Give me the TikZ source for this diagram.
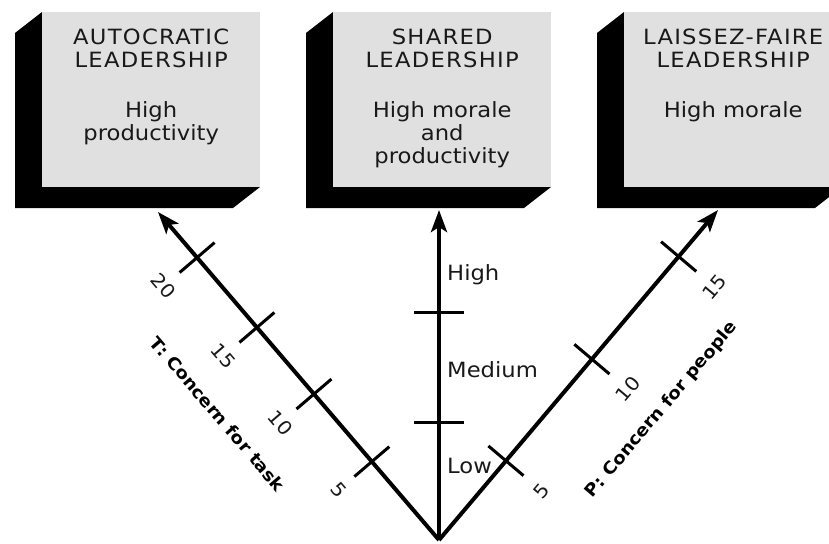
\documentclass[tikz,border=0pt]{standalone}
\usepackage{fontspec}
\setmainfont{DejaVu Sans}[FakeStretch=1.08]
\usetikzlibrary{positioning,calc,arrows.meta}
\definecolor{boxgray}{RGB}{224,224,224}
\newcommand{\spacedcaps}[1]{{\addfontfeature{LetterSpace=6}#1}}

\begin{document}
\begin{tikzpicture}[x=1pt,y=-1pt,
  face/.style={fill=boxgray,anchor=north west,minimum width=218pt,minimum height=175pt,inner sep=0pt},
  box text/.style={align=center,inner sep=0pt,text=black!90,font=\fontsize{21}{23}\selectfont},
  axis/.style={line width=4pt,-{Stealth[length=22pt,width=16pt,inset=5pt]}},
  scale tick/.style={line width=3pt},
  num/.style={inner sep=0pt,text=black!90,font=\fontsize{19}{19}\selectfont},
  axis title/.style={inner sep=0pt,font=\fontsize{17}{17}\selectfont\bfseries},
  level/.style={anchor=west,inner sep=0pt,text=black!90,font=\fontsize{21}{22}\selectfont}]
\useasboundingbox (0,0) rectangle (829,543);

% boxes with their dark sides
\foreach \x/\boxname in {42/autoBox,333/sharedBox,624/laissezBox} {
  \fill (\x,12) -- ++(-27,21) -- ++(0,175) -- ++(218,0) -- ++(27,-21) -- cycle;
  \node[face] (\boxname) at (\x,12) {};
}
\node[box text, below=17pt of autoBox.north] (autoText) {\spacedcaps{AUTOCRATIC}\\\spacedcaps{LEADERSHIP}\\[27pt]High\\productivity};
\node[box text, below=17pt of sharedBox.north] (sharedText) {\spacedcaps{SHARED}\\\spacedcaps{LEADERSHIP}\\[27pt]High morale\\and\\productivity};
\node[box text, below=17pt of laissezBox.north] (laissezText) {\spacedcaps{LAISSEZ-FAIRE}\\\spacedcaps{LEADERSHIP}\\[27pt]High morale};

% the three axes
\coordinate (origin) at (439,540);
\coordinate (taskTip) at (158,212);
\coordinate (levelTip) at (439,210);
\coordinate (peopleTip) at (718,210);
\draw[axis] (origin) -- (taskTip);
\draw[axis] (origin) -- (levelTip);
\draw[axis] (origin) -- (peopleTip);

% T scale
\foreach \p/\n in {0.239/5,0.445/10,0.648/15,0.861/20} {
  \coordinate (t\n) at ($(origin)!\p!(taskTip)$);
  \draw[scale tick] ($(t\n)!23pt!90:(taskTip)$) -- ($(t\n)!23pt!-90:(taskTip)$);
  \node[num, rotate=-49.4] (tl\n) at ($(t\n)!44pt!90:(taskTip)$) {\n};
}
% P scale
\foreach \p/\n in {0.24/5,0.548/10,0.859/15} {
  \coordinate (p\n) at ($(origin)!\p!(peopleTip)$);
  \draw[scale tick] ($(p\n)!23pt!90:(peopleTip)$) -- ($(p\n)!23pt!-90:(peopleTip)$);
  \node[num, rotate=49.8] (pl\n) at ($(p\n)!47pt!-90:(peopleTip)$) {\n};
}
% middle scale
\coordinate (lowMed) at (439,422);
\coordinate (medHigh) at (439,312);
\draw[scale tick] ($(lowMed)+(-25,0)$) -- ($(lowMed)+(25,0)$);
\draw[scale tick] ($(medHigh)+(-25,0)$) -- ($(medHigh)+(25,0)$);
\node[level] (high) at (447,275) {High};
\node[level] (medium) at (447,370) {Medium};
\node[level] (low) at (447,466) {Low};

% axis titles
\coordinate (taskMid) at ($(origin)!0.555!(taskTip)$);
\coordinate (peopleMid) at ($(origin)!0.563!(peopleTip)$);
\node[axis title, rotate=-49.4] (taskTitle) at ($(taskMid)!86pt!90:(taskTip)$) {T: Concern for task};
\node[axis title, rotate=49.8] (peopleTitle) at ($(peopleMid)!86pt!-90:(peopleTip)$) {P: Concern for people};
\end{tikzpicture}
\end{document}
